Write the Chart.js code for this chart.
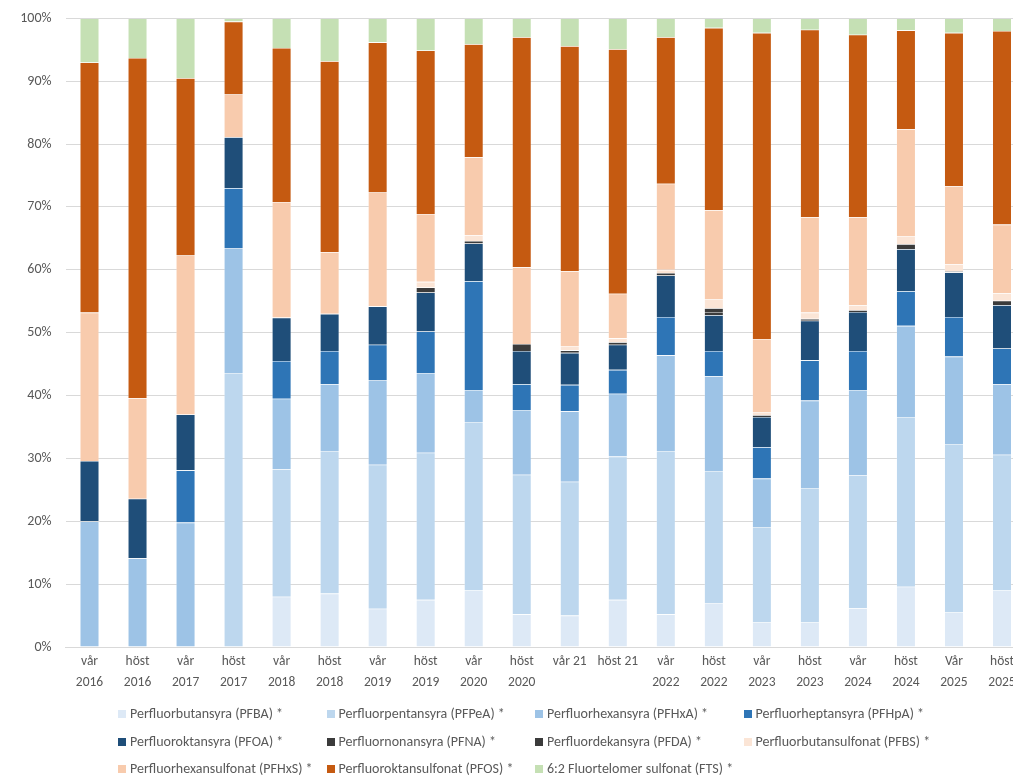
<!DOCTYPE html>
<html>
<head>
<meta charset="utf-8">
<script src="https://cdn.jsdelivr.net/npm/chart.js@4/dist/chart.umd.min.js"></script>
<style>
  html, body { margin: 0; padding: 0; background: #fff; overflow: hidden; width: 1013px; height: 777px; }
  #wrap { position: absolute; left: 0; top: -4px; width: 1030px; height: 777px; }
  #legend { position: absolute; left: 118px; top: 704px; font-family: Carlito, "Liberation Sans Narrow", "Liberation Sans", sans-serif; font-size: 14px; color: #595959; }
  .item { position: absolute; white-space: nowrap; height: 20px; line-height: 20px; }
  .item span.box { display: inline-block; width: 8px; height: 8px; margin-right: 4px; vertical-align: 0px; }
</style>
</head>
<body>
<div id="wrap"><canvas id="myChart" width="1030" height="777"></canvas></div>
<div id="legend"></div>
<script>
var labels = [
    ['vår', '2016'], ['höst', '2016'], ['vår', '2017'], ['höst', '2017'], ['vår', '2018'],
    ['höst', '2018'], ['vår', '2019'], ['höst', '2019'], ['vår', '2020'], ['höst', '2020'],
    'vår 21', 'höst 21', ['vår', '2022'], ['höst', '2022'], ['vår', '2023'],
    ['höst', '2023'], ['vår', '2024'], ['höst', '2024'], ['Vår', '2025'], ['höst', '2025']
];

var seriesNames = [
    'Perfluorbutansyra (PFBA) *', 'Perfluorpentansyra (PFPeA) *', 'Perfluorhexansyra (PFHxA) *',
    'Perfluorheptansyra (PFHpA) *', 'Perfluoroktansyra (PFOA) *', 'Perfluornonansyra (PFNA) *',
    'Perfluordekansyra (PFDA) *', 'Perfluorbutansulfonat (PFBS) *', 'Perfluorhexansulfonat (PFHxS) *',
    'Perfluoroktansulfonat (PFOS) *', '6:2 Fluortelomer sulfonat (FTS) *'
];

var colors = ['#dde9f6', '#bdd7ee', '#9dc3e6', '#2e75b6', '#1f4e79', '#3b3b3b', '#3b3b3b',
              '#fbe5d6', '#f8cbad', '#c55a11', '#c5e0b4'];

// share in percent, one value per sampling
var pfba  = [0, 0, 0, 0, 8.0, 8.5, 6.1, 7.5, 9.0, 5.2, 5.0, 7.5, 5.2, 7.0, 3.9, 3.9, 6.2, 9.6, 5.5, 9.0];
var pfpea = [0, 0, 0, 43.6, 20.3, 22.7, 22.9, 23.4, 26.8, 22.2, 21.3, 22.8, 26.0, 21.0, 15.2, 21.4, 21.1, 27.0, 26.8, 21.6];
var pfhxa = [20.0, 14.1, 19.8, 19.8, 11.2, 10.6, 13.4, 12.7, 5.1, 10.3, 11.2, 10.0, 15.2, 15.1, 7.7, 13.9, 13.6, 14.5, 13.9, 11.2];
var pfhpa = [0, 0, 8.3, 9.6, 6.0, 5.3, 5.7, 6.6, 17.3, 4.1, 4.2, 3.8, 6.1, 4.0, 5.0, 6.4, 6.2, 5.5, 6.3, 5.7];
var pfoa  = [9.6, 9.5, 8.9, 8.1, 6.9, 5.9, 6.1, 6.2, 6.0, 5.3, 5.1, 4.0, 6.6, 5.7, 4.8, 6.3, 6.2, 6.7, 7.1, 6.9];
var pfna  = [0, 0, 0, 0, 0, 0, 0, 0.8, 0.4, 1.1, 0.4, 0.4, 0.4, 0.5, 0.3, 0.3, 0.3, 0.8, 0.2, 0.7];
var pfda  = [0, 0, 0, 0, 0, 0, 0, 0, 0, 0, 0, 0, 0, 0.6, 0, 0, 0, 0, 0, 0];
var pfbs  = [0, 0, 0, 0, 0, 0, 0, 0.9, 0.9, 0, 0.7, 0.6, 0.5, 1.4, 0.5, 1.0, 0.8, 1.2, 1.1, 1.2];
var pfhxs = [23.6, 16.0, 25.3, 6.8, 18.4, 9.8, 18.1, 10.8, 12.4, 12.2, 11.9, 7.1, 13.7, 14.2, 11.6, 15.2, 14.0, 17.1, 12.4, 10.9];
var pfos  = [39.8, 54.1, 28.2, 11.6, 24.5, 30.4, 23.9, 26.0, 18.0, 36.6, 35.8, 38.9, 23.3, 29.0, 48.7, 29.8, 29.0, 15.7, 24.4, 30.8];
var fts   = [7.0, 6.3, 9.5, 0.5, 4.7, 6.8, 3.8, 5.1, 4.1, 3.0, 4.4, 4.9, 3.0, 1.5, 2.3, 1.8, 2.6, 1.9, 2.3, 2.0];

var allValues = [pfba, pfpea, pfhxa, pfhpa, pfoa, pfna, pfda, pfbs, pfhxs, pfos, fts];

var fontFamily = 'Carlito, "Liberation Sans Narrow", "Liberation Sans", sans-serif';

var datasets = [];
for (var i = 0; i < allValues.length; i++) {
    datasets.push({
        label: seriesNames[i],
        data: allValues[i],
        backgroundColor: colors[i],
        borderColor: 'rgba(255,255,255,0.35)',
        borderWidth: 0.6,
        barPercentage: 0.4,
        categoryPercentage: 1.0
    });
}

var ctx = document.getElementById('myChart').getContext('2d');
var myChart = new Chart(ctx, {
    type: 'bar',
    data: { labels: labels, datasets: datasets },
    options: {
        responsive: false,
        animation: false,
        layout: { padding: { top: 8, right: 4, left: 0, bottom: 0 } },
        plugins: {
            legend: { display: false },
            tooltip: { enabled: false }
        },
        scales: {
            x: {
                stacked: true,
                grid: { display: false, drawTicks: false },
                border: { color: '#d9d9d9' },
                ticks: {
                    color: '#595959',
                    font: { family: fontFamily, size: 13.5, lineHeight: 1.55 },
                    maxRotation: 0,
                    autoSkip: false,
                    padding: 4
                },
                afterFit: function(scale) { scale.height = 126; }
            },
            y: {
                stacked: true,
                min: 0,
                max: 100,
                grid: { color: '#d9d9d9', drawTicks: false },
                border: { display: false },
                ticks: {
                    stepSize: 10,
                    color: '#595959',
                    padding: 14,
                    font: { family: fontFamily, size: 14 },
                    callback: function(v) { return v + '%'; }
                },
                afterFit: function(scale) { scale.width = 65.5; }
            }
        }
    }
});

// legend laid out in a 4-column grid like the original
var legendDiv = document.getElementById('legend');
var html = '';
for (var j = 0; j < seriesNames.length; j++) {
    var col = j % 4;
    var row = Math.floor(j / 4);
    html += '<div class="item" style="left:' + (col * 208.5) + 'px;top:' + (row * 27.5) + 'px">' +
        '<span class="box" style="background:' + colors[j] + '"></span>' + seriesNames[j] + '</div>';
}
legendDiv.innerHTML = html;
</script>
</body>
</html>
